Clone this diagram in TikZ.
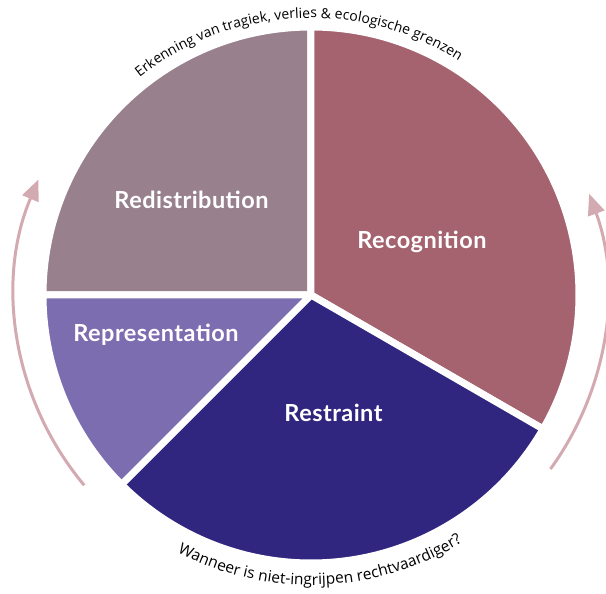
\documentclass[tikz,border=0pt]{standalone}
\usepackage{fontspec}
\setmainfont{Lato}
\newfontfamily\labelfont[LetterSpace=2]{Lato}
\newfontfamily\curvefont{Open Sans}
\usetikzlibrary{decorations.text,arrows.meta}
\definecolor{cRedis}{HTML}{98818D}
\definecolor{cRecog}{HTML}{A5636F}
\definecolor{cRestr}{HTML}{31267F}
\definecolor{cRepr}{HTML}{7C6CB0}
\definecolor{cArrow}{HTML}{D3AAB1}
\begin{document}
\begin{tikzpicture}[x=1pt,y=1pt,
  sector/.style={draw=white,line width=7pt,line join=round},
  seclabel/.style={text=white,anchor=base,inner sep=0pt,font=\labelfont\fontsize{23.5}{27}\selectfont\bfseries},
  cyclearrow/.style={draw=cArrow,line width=3pt,-{Triangle[length=21pt,width=17pt]}},
  curvetext/.style={decorate,decoration={text along path,text align=center,text={#1}}}]
\useasboundingbox (-311,-299) rectangle (295,295);
\coordinate (c) at (0,0);
% sectors
\path[sector,fill=cRedis] (c) -- (180:268) arc[start angle=180,end angle=90,radius=268] -- cycle;
\path[sector,fill=cRecog] (c) -- (90:268) arc[start angle=90,end angle=-30,radius=268] -- cycle;
\path[sector,fill=cRestr] (c) -- (-30:268) arc[start angle=-30,end angle=-135,radius=268] -- cycle;
\path[sector,fill=cRepr] (c) -- (-135:268) arc[start angle=-135,end angle=-180,radius=268] -- cycle;
% labels
\node[seclabel] (redis) at (-119.5,86) {Redistribution};
\node[seclabel] (recog) at (111,46) {Recognition};
\node[seclabel] (repr) at (-155,-47) {Representation};
\node[seclabel] (restr) at (22.5,-127) {Restraint};
% curved texts
\path[curvetext={|\curvefont\fontsize{14}{16}\selectfont|Erkenning van tragiek, verlies {\&} ecologische grenzen}]
  (137:277) arc[start angle=137,end angle=49,radius=277];
\path[curvetext={|\curvefont\fontsize{15.5}{18}\selectfont|Wanneer is niet-ingrijpen rechtvaardiger?}]
  (230:290) arc[start angle=230,end angle=314,radius=290];
% cycle arrows
\draw[cyclearrow] (220:296) arc[start angle=220,end angle=157,radius=296];
\draw[cyclearrow] (-36:296) arc[start angle=-36,end angle=20,radius=296];
\end{tikzpicture}
\end{document}
